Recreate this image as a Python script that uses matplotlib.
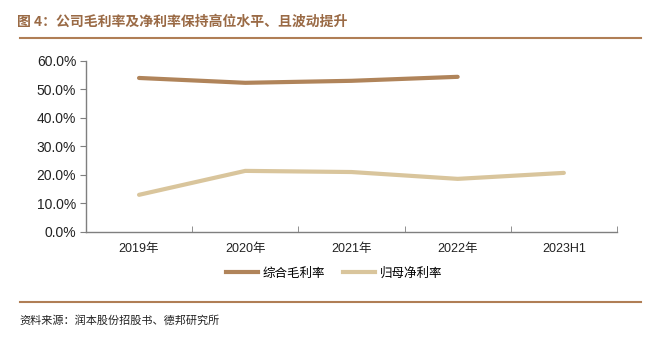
import matplotlib.pyplot as plt
from matplotlib.ticker import FuncFormatter
from matplotlib.lines import Line2D

plt.rcParams['font.family'] = ['Noto Sans CJK SC', 'DejaVu Sans']

periods = ['2019年', '2020年', '2021年', '2022年', '2023H1']
gross_margin = [54.0, 52.3, 53.0, 54.4, None]
net_margin = [13.0, 21.4, 21.0, 18.6, 20.7]

c_gross = '#B0845A'
c_net = '#D9C59C'
c_title = '#9A6A45'
c_axis = '#7F7F7F'
num_font = ['Liberation Sans', 'Noto Sans CJK SC']

fig = plt.figure(figsize=(6.56, 3.40), dpi=100)
ax = fig.add_axes([0.131, 0.318, 0.8095, 0.503])

x = list(range(len(periods)))
gx = [i for i, v in zip(x, gross_margin) if v is not None]
gy = [v for v in gross_margin if v is not None]
ax.plot(gx, gy, color=c_gross, lw=3.0, solid_capstyle='round')
ax.plot(x, net_margin, color=c_net, lw=3.0, solid_capstyle='round')

ax.set_xlim(-0.5, len(periods) - 0.5)
ax.set_ylim(0, 60)
ax.set_yticks(range(0, 61, 10))
ax.yaxis.set_major_formatter(FuncFormatter(lambda v, p: f'{v:.1f}%'))
ax.set_xticks(x)
ax.set_xticklabels(periods)
ax.set_xticks([i - 0.5 for i in range(len(periods) + 1)], minor=True)
ax.tick_params(axis='x', which='major', length=0, pad=8, labelsize=9, colors='#222222')
ax.tick_params(axis='x', which='minor', length=4, direction='in', color=c_axis)
ax.tick_params(axis='y', length=4, direction='out', color=c_axis, labelsize=10, colors='#222222', pad=3)
for lab in ax.get_xticklabels() + ax.get_yticklabels():
    lab.set_family(num_font)
for s in ['top', 'right']:
    ax.spines[s].set_visible(False)
for s in ['left', 'bottom']:
    ax.spines[s].set_color(c_axis)
    ax.spines[s].set_linewidth(1.0)

handles = [Line2D([0], [0], color=c_gross, lw=3.0),
           Line2D([0], [0], color=c_net, lw=3.0)]
fig.legend(handles, ['综合毛利率', '归母净利率'], loc='center', bbox_to_anchor=(0.509, 0.197),
           ncol=2, frameon=False, fontsize=9, handlelength=2.6, handletextpad=0.35,
           columnspacing=1.4)

# header and footer
fig.text(0.026, 0.935, '图 4：公司毛利率及净利率保持高位水平、且波动提升', color=c_title,
         fontsize=10, fontweight='bold', va='center', ha='left')
fig.add_artist(Line2D([0.03, 0.977], [0.888, 0.888], color='#B07E55', lw=1.5))
fig.add_artist(Line2D([0.03, 0.977], [0.112, 0.112], color='#B07E55', lw=1.5))
fig.text(0.03, 0.058, '资料来源：润本股份招股书、德邦研究所', color='#222222', fontsize=8,
         va='center', ha='left')

fig.savefig('out.png', dpi=100)
